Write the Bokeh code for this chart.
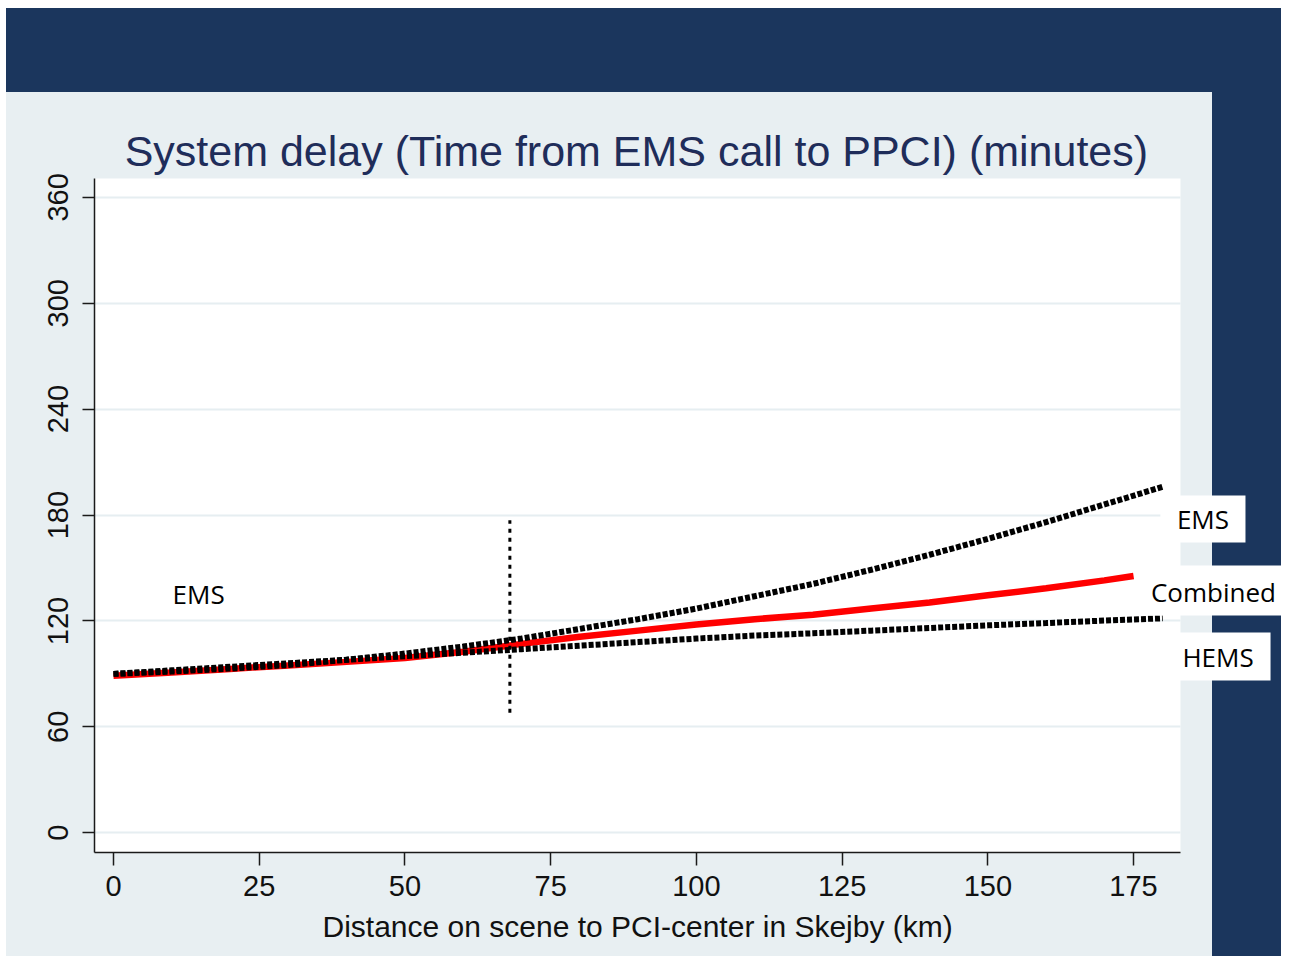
from bokeh.plotting import figure
from bokeh.models import Range1d, BoxAnnotation, Label, FixedTicker, Title
from bokeh.embed import file_html
from bokeh.resources import INLINE

# ---- data ----
distance_km = [0, 10, 20, 30, 40, 50, 60, 70, 80, 90, 100, 110, 120, 130, 140, 150, 160, 170, 180]
ems_delay = [90, 91.3, 93, 95, 98, 101.5, 105.5, 110, 115.5, 121, 127, 134, 141, 149, 157.5, 166.5, 176, 186, 196]
hems_delay = [90, 92, 94, 96, 98, 100, 102, 104, 106, 108, 110, 111.7, 113, 114.5, 116, 117.5, 118.8, 120.2, 121.5]
combined_km = [0, 10, 20, 30, 40, 50, 60, 70, 80, 90, 100, 110, 120, 130, 140, 150, 160, 170, 175]
combined_delay = [89, 90.8, 92.8, 94.8, 96.8, 99, 102.5, 107, 111, 114.5, 118, 121, 123.5, 127, 130.5, 134.5, 138.5, 143, 145.5]
cutoff_x = [68, 68]
cutoff_y = [68, 177]
x_ticks = [0, 25, 50, 75, 100, 125, 150, 175]
y_ticks = [0, 60, 120, 180, 240, 300, 360]

TITLE = "System delay (Time from EMS call to PPCI) (minutes)"
XLABEL = "Distance on scene to PCI-center in Skejby (km)"

NAVY = "#1b365d"
PANEL = "#e8eff2"
GRID = "#e6eef1"
AX_FONT = "Liberation Sans"
LBL_FONT = "Open Sans"

# plot-area extent (data units)
X0, X1 = -3.26, 183.05
Y0, Y1 = -11.22, 370.7

bg = (f"linear-gradient({NAVY},{NAVY}) 6px 8px / 1275px 84px no-repeat, "
      f"linear-gradient({NAVY},{NAVY}) 1212px 8px / 69px 948px no-repeat, "
      f"linear-gradient({PANEL},{PANEL}) 6px 8px / 1275px 948px no-repeat, white")

p = figure(width=1281, height=956, output_backend="svg", toolbar_location=None,
           x_range=Range1d(X0, 200.38), y_range=Range1d(Y0, 471.58),
           min_border_left=94, min_border_right=0, min_border_top=0, min_border_bottom=104,
           styles={"background": bg})
p.border_fill_alpha = 0
p.background_fill_alpha = 0
p.outline_line_color = None

# white plot area
p.add_layout(BoxAnnotation(left=X0, right=X1, bottom=Y0, top=Y1, fill_color="white",
                           fill_alpha=1, line_color=None, level="image"))

# axes
p.xaxis.ticker = FixedTicker(ticks=x_ticks)
p.yaxis.ticker = FixedTicker(ticks=y_ticks)
p.xaxis.bounds = (X0, X1)
p.yaxis.bounds = (Y0, Y1)
for ax in (p.xaxis[0], p.yaxis[0]):
    ax.axis_line_color = "#1a1a1a"
    ax.axis_line_width = 1.5
    ax.major_tick_line_color = "#1a1a1a"
    ax.major_tick_line_width = 1.5
    ax.major_tick_in = 0
    ax.minor_tick_line_color = None
    ax.major_label_text_font = AX_FONT
    ax.major_label_text_font_size = "29px"
    ax.major_label_text_color = "#111111"
p.xaxis.major_tick_out = 13
p.yaxis.major_tick_out = 12
p.xaxis.major_label_standoff = 10
p.yaxis.major_label_standoff = 14
p.yaxis.major_label_orientation = "vertical"

# x-axis title, placed under the axis and aligned as in the reference
p.add_layout(Title(text=XLABEL, align="left", offset=228, standoff=18,
                   text_font=AX_FONT, text_font_size="30px", text_font_style="normal",
                   text_color="#111111"), "below")

p.xgrid.grid_line_color = None
p.ygrid.grid_line_color = GRID
p.ygrid.grid_line_width = 2
p.ygrid.bounds = (Y0, Y1)
p.ygrid.cross_bounds = (X0, X1)

# data
p.line(combined_km, combined_delay, line_color="#ff0000", line_width=6.5)
p.line(distance_km, ems_delay, line_color="black", line_width=6, line_dash="5 2")
p.line(distance_km, hems_delay, line_color="black", line_width=6, line_dash="5 2")
p.line(cutoff_x, cutoff_y, line_color="black", line_width=3, line_dash="4 5")

# title
p.add_layout(Label(x=89.7, y=386.5, text=TITLE, text_align="center", text_baseline="middle",
                   text_font=AX_FONT, text_font_size="43px", text_color="#1f2d5a"))

# in-plot label
p.add_layout(Label(x=14.6, y=135.0, text="EMS", text_align="center", text_baseline="middle",
                   text_font=LBL_FONT, text_font_size="26px", text_color="black"))

# right-side labelled boxes
boxes = [
    (179.6, 194.2, 164.5, 191.1, "EMS", 186.9, 178.0),
    (177.0, 260.0, 123.1, 151.4, "Combined", 188.7, 136.5),
    (180.5, 198.5, 86.3, 113.5, "HEMS", 189.5, 99.3),
]
for l, r, b, t, txt, tx, ty in boxes:
    p.add_layout(BoxAnnotation(left=l, right=r, bottom=b, top=t, fill_color="white",
                               fill_alpha=1, line_color=None, level="annotation"))
    p.add_layout(Label(x=tx, y=ty, text=txt, text_align="center", text_baseline="middle",
                       text_font=LBL_FONT, text_font_size="26px", text_color="black",
                       level="overlay"))

open("out.html", "w").write(file_html(p, INLINE))
